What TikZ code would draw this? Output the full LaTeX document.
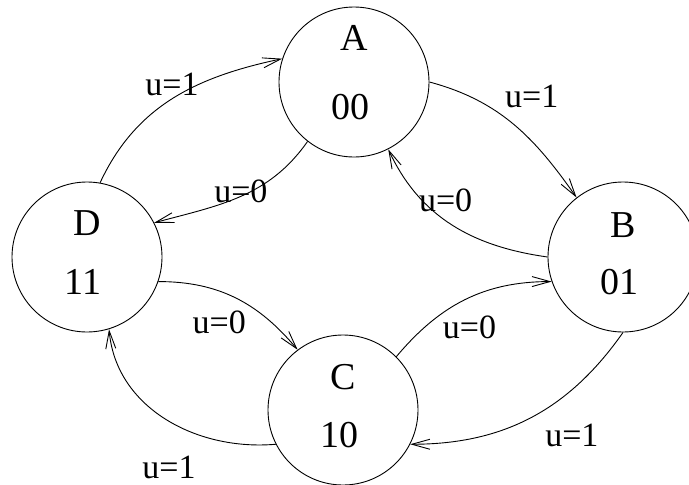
\documentclass[tikz,border=0pt]{standalone}
\usepackage{fontspec}
\setmainfont{Liberation Serif}
\usetikzlibrary{arrows.meta}

\begin{document}
\begin{tikzpicture}[x=1pt, y=1pt,
    state/.style={circle, draw, line width=0.9pt, minimum size=150pt, inner sep=0pt},
    statetext/.style={font=\fontsize{38}{42}\selectfont, inner sep=0pt},
    edgelabel/.style={font=\fontsize{34}{38}\selectfont, inner sep=0pt},
    trans/.style={-{Straight Barb[length=18pt,width=10pt]}, line width=0.9pt}
]
  \useasboundingbox (0,0) rectangle (689,-485);
  \clip (0,0) rectangle (689,-485);

  % States
  \node[state] (A) at (354,-82) {};
  \node[state] (B) at (623,-257) {};
  \node[state] (C) at (343,-410) {};
  \node[state] (D) at (87,-257) {};

  % Names and codes inside the states
  \foreach \s/\code/\up in {A/00/44, B/01/32, C/10/33, D/11/34} {
    \node[statetext] (\s-name) at ([yshift=\up pt]\s.center) {\s};
    \node[statetext] (\s-code) at ([xshift=-4pt,yshift=-25pt]\s.center) {\code};
  }

  % Transitions
  \draw[trans] (D.80) to[out=65,in=192]
      node[edgelabel, pos=0.42, xshift=13pt, yshift=23pt] {u=1} (A.162);
  \draw[trans] (A.232) to[out=235,in=15]
      node[edgelabel, pos=0.5, yshift=5pt] {u=0} (D.27);
  \draw[trans] (A.0) to[out=-15,in=125]
      node[edgelabel, pos=0.45, xshift=25pt, yshift=22pt] {u=1} (B.128);
  \draw[trans] (B.180) to[out=172,in=295]
      node[edgelabel, pos=0.6, xshift=9pt, yshift=13pt] {u=0} (A.297);
  \draw[trans] (D.341) to[out=0,in=130]
      node[edgelabel, pos=0.45, xshift=-10pt, yshift=-27pt] {u=0} (C.127);
  \draw[trans] (C.45) to[out=50,in=180]
      node[edgelabel, pos=0.45, xshift=12pt, yshift=-24pt] {u=0} (B.199);
  \draw[trans] (B.270) to[out=235,in=0]
      node[edgelabel, pos=0.4, xshift=20pt, yshift=-30pt] {u=1} (C.333);
  \draw[trans] (C.207) to[out=185,in=275]
      node[edgelabel, pos=0.45, xshift=-6pt, yshift=-43pt] {u=1} (D.287);
\end{tikzpicture}
\end{document}
